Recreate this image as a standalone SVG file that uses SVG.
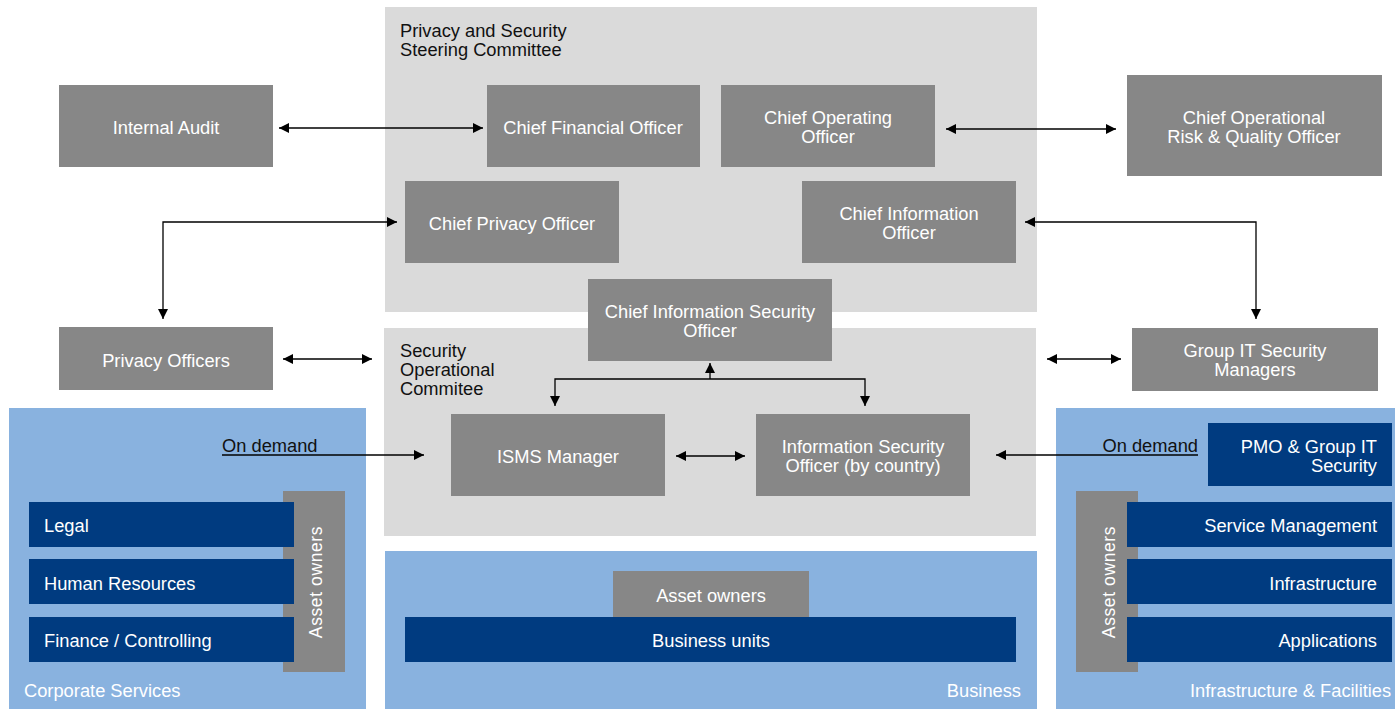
<svg xmlns="http://www.w3.org/2000/svg" width="1395" height="709" viewBox="0 0 1395 709">
  <style>
    .panel { fill: #dadada; }
    .area { fill: #89b2df; }
    .box { fill: #878787; }
    .unit { fill: #003b80; }
    text { font-family: "Liberation Sans", Arial, sans-serif; font-size: 18.3px; }
    .w { fill: #ffffff; }
    .k { fill: #111111; }
    .c { text-anchor: middle; }
    .r { text-anchor: end; }
    .vert { font-size: 17.5px; letter-spacing: 0.6px; }
    .conn { stroke: #000; stroke-width: 1.3; fill: none; }
  </style>
  <defs>
    <marker id="arr" viewBox="0 0 10 10" refX="10" refY="5" markerWidth="11" markerHeight="10" markerUnits="userSpaceOnUse" orient="auto-start-reverse">
      <path d="M0,0 L10,5 L0,10 Z" fill="#000"/>
    </marker>
  </defs>

  <!-- committee panels -->
  <g id="steering-committee">
    <rect class="panel" x="385" y="7" width="652" height="305"/>
    <text class="k" x="400" y="37">Privacy and Security</text>
    <text class="k" x="400" y="56">Steering Committee</text>
  </g>
  <g id="operational-committee">
    <rect class="panel" x="384" y="328" width="652" height="208"/>
    <text class="k" x="400" y="357">Security</text>
    <text class="k" x="400" y="376">Operational</text>
    <text class="k" x="400" y="395">Commitee</text>
  </g>

  <!-- organisational areas -->
  <g id="corporate-services">
    <rect class="area" x="9" y="408" width="357" height="301"/>
    <text class="w" x="24" y="697">Corporate Services</text>
  </g>
  <g id="business">
    <rect class="area" x="385" y="551" width="652" height="158"/>
    <text class="w r" x="1021" y="697">Business</text>
  </g>
  <g id="infrastructure-facilities">
    <rect class="area" x="1056" y="408" width="339" height="301"/>
    <text class="w" x="1190" y="697">Infrastructure &amp; Facilities</text>
  </g>

  <!-- roles -->
  <g id="internal-audit">
    <rect class="box" x="59" y="85" width="214" height="82"/>
    <text class="w c" x="166" y="134">Internal Audit</text>
  </g>
  <g id="cfo">
    <rect class="box" x="487" y="85" width="213" height="82"/>
    <text class="w c" x="593" y="134">Chief Financial Officer</text>
  </g>
  <g id="coo">
    <rect class="box" x="721" y="85" width="214" height="82"/>
    <text class="w c" x="828" y="124">Chief Operating</text>
    <text class="w c" x="828" y="143">Officer</text>
  </g>
  <g id="corqo">
    <rect class="box" x="1127" y="75" width="255" height="101"/>
    <text class="w c" x="1254" y="124">Chief Operational</text>
    <text class="w c" x="1254" y="143">Risk &amp; Quality Officer</text>
  </g>
  <g id="cpo">
    <rect class="box" x="405" y="181" width="214" height="82"/>
    <text class="w c" x="512" y="230">Chief Privacy Officer</text>
  </g>
  <g id="cio">
    <rect class="box" x="802" y="181" width="214" height="82"/>
    <text class="w c" x="909" y="220">Chief Information</text>
    <text class="w c" x="909" y="239">Officer</text>
  </g>
  <g id="ciso">
    <rect class="box" x="588" y="279" width="244" height="82"/>
    <text class="w c" x="710" y="318">Chief Information Security</text>
    <text class="w c" x="710" y="337">Officer</text>
  </g>
  <g id="privacy-officers">
    <rect class="box" x="59" y="327" width="214" height="63"/>
    <text class="w c" x="166" y="367">Privacy Officers</text>
  </g>
  <g id="group-it-security">
    <rect class="box" x="1132" y="328" width="246" height="63"/>
    <text class="w c" x="1255" y="357">Group IT Security</text>
    <text class="w c" x="1255" y="376">Managers</text>
  </g>
  <g id="isms-manager">
    <rect class="box" x="451" y="414" width="214" height="82"/>
    <text class="w c" x="558" y="463">ISMS Manager</text>
  </g>
  <g id="iso-country">
    <rect class="box" x="756" y="414" width="214" height="82"/>
    <text class="w c" x="863" y="453">Information Security</text>
    <text class="w c" x="863" y="472">Officer (by country)</text>
  </g>

  <!-- corporate services: asset owner bar sits behind the units -->
  <g id="asset-owners-corporate">
    <rect class="box" x="283" y="491" width="62" height="181"/>
    <text class="w c vert" transform="translate(322,582) rotate(-90)">Asset owners</text>
  </g>
  <g id="legal">
    <rect class="unit" x="29" y="502" width="265" height="45"/>
    <text class="w" x="44" y="532">Legal</text>
  </g>
  <g id="human-resources">
    <rect class="unit" x="29" y="559" width="265" height="45"/>
    <text class="w" x="44" y="590">Human Resources</text>
  </g>
  <g id="finance-controlling">
    <rect class="unit" x="29" y="617" width="265" height="45"/>
    <text class="w" x="44" y="647">Finance / Controlling</text>
  </g>

  <!-- business units -->
  <g id="asset-owners-business">
    <rect class="box" x="613" y="571" width="196" height="46"/>
    <text class="w c" x="711" y="602">Asset owners</text>
  </g>
  <g id="business-units">
    <rect class="unit" x="405" y="617" width="611" height="45"/>
    <text class="w c" x="711" y="647">Business units</text>
  </g>

  <!-- infrastructure units -->
  <g id="pmo-group-it">
    <rect class="unit" x="1208" y="423" width="184" height="63"/>
    <text class="w r" x="1377" y="453">PMO &amp; Group IT</text>
    <text class="w r" x="1377" y="472">Security</text>
  </g>
  <g id="asset-owners-infrastructure">
    <rect class="box" x="1076" y="491" width="62" height="181"/>
    <text class="w c vert" transform="translate(1115,582) rotate(-90)">Asset owners</text>
  </g>
  <g id="service-management">
    <rect class="unit" x="1127" y="502" width="265" height="45"/>
    <text class="w r" x="1377" y="532">Service Management</text>
  </g>
  <g id="infrastructure">
    <rect class="unit" x="1127" y="559" width="265" height="45"/>
    <text class="w r" x="1377" y="590">Infrastructure</text>
  </g>
  <g id="applications">
    <rect class="unit" x="1127" y="617" width="265" height="45"/>
    <text class="w r" x="1377" y="647">Applications</text>
  </g>

  <!-- connectors -->
  <g id="connectors">
    <path class="conn" d="M279,128 H483" marker-start="url(#arr)" marker-end="url(#arr)"/>
    <path class="conn" d="M946,129 H1116" marker-start="url(#arr)" marker-end="url(#arr)"/>
    <path class="conn" d="M397,222 H163 V319" marker-start="url(#arr)" marker-end="url(#arr)"/>
    <path class="conn" d="M1025,222 H1256 V319" marker-start="url(#arr)" marker-end="url(#arr)"/>
    <path class="conn" d="M283,359 H372" marker-start="url(#arr)" marker-end="url(#arr)"/>
    <path class="conn" d="M1047,359 H1121" marker-start="url(#arr)" marker-end="url(#arr)"/>
    <path class="conn" d="M710,379 V363" marker-end="url(#arr)"/>
    <path class="conn" d="M555,406 V379 H865 V406" marker-start="url(#arr)" marker-end="url(#arr)"/>
    <path class="conn" d="M676,456 H745" marker-start="url(#arr)" marker-end="url(#arr)"/>
    <path class="conn" d="M222,455 H424" marker-end="url(#arr)"/>
    <path class="conn" d="M1198,455 H996" marker-end="url(#arr)"/>
    <text class="k" x="222" y="452">On demand</text>
    <text class="k r" x="1198" y="452">On demand</text>
  </g>
</svg>
